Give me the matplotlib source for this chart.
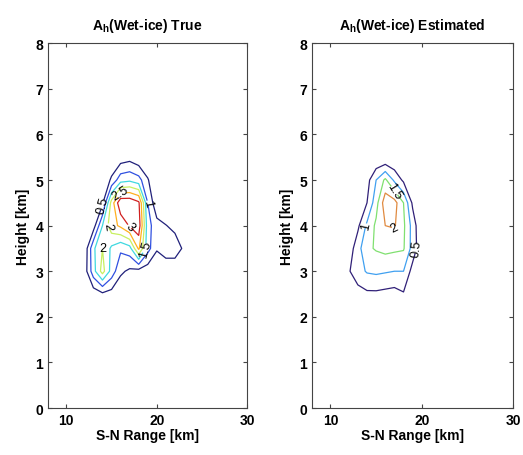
import numpy as np
import matplotlib
matplotlib.use("Agg")
import matplotlib.pyplot as plt

plt.rcParams.update({
    "font.family": ["Liberation Sans", "DejaVu Sans"],
    "font.weight": "bold",
    "mathtext.fontset": "custom",
    "mathtext.bf": "Liberation Sans:bold",
    "mathtext.rm": "Liberation Sans:bold",
})

# grid (S-N range in km, height in km)
range_km = [11, 12, 13, 14, 15, 16, 17, 18, 19, 20, 21, 22, 23, 24]
height_km = [2.0, 2.5, 3.0, 3.5, 4.0, 4.5, 5.0, 5.5, 6.0]

# A_h true (rows = height, cols = range)
ah_true = [
    [0, 0.0, 0.00, 0.0, 0.0, 0.0, 0.00, 0.0, 0.00, 0.00, 0.00, 0.00, 0.0, 0],
    [0, 0.0, 0.20, 0.4, 0.3, 0.1, 0.00, 0.0, 0.00, 0.00, 0.00, 0.00, 0.0, 0],
    [0, 0.2, 1.30, 2.2, 1.3, 0.6, 0.40, 0.3, 0.20, 0.10, 0.10, 0.10, 0.0, 0],
    [0, 0.1, 1.40, 2.0, 1.4, 1.1, 1.30, 2.6, 1.20, 0.55, 0.80, 0.80, 0.4, 0],
    [0, 0.1, 0.25, 1.5, 2.3, 2.6, 3.05, 3.3, 1.20, 0.70, 0.52, 0.35, 0.0, 0],
    [0, 0.0, 0.10, 0.4, 2.2, 3.4, 3.40, 3.1, 1.00, 0.10, 0.00, 0.00, 0.0, 0],
    [0, 0.0, 0.00, 0.0, 0.6, 1.3, 1.40, 1.2, 0.55, 0.00, 0.00, 0.00, 0.0, 0],
    [0, 0.0, 0.00, 0.0, 0.0, 0.2, 0.30, 0.1, 0.00, 0.00, 0.00, 0.00, 0.0, 0],
    [0, 0.0, 0.00, 0.0, 0.0, 0.0, 0.00, 0.0, 0.00, 0.00, 0.00, 0.00, 0.0, 0],
]

# A_h estimated
ah_est = [
    [0, 0.00, 0.0, 0.00, 0.00, 0.00, 0.00, 0.00, 0.0, 0.0, 0, 0, 0, 0],
    [0, 0.10, 0.3, 0.40, 0.40, 0.35, 0.30, 0.45, 0.2, 0.0, 0, 0, 0, 0],
    [0, 0.45, 0.8, 1.05, 1.10, 1.05, 1.00, 1.00, 0.3, 0.0, 0, 0, 0, 0],
    [0, 0.20, 0.8, 1.40, 1.55, 1.65, 1.60, 1.55, 0.8, 0.1, 0, 0, 0, 0],
    [0, 0.10, 0.4, 1.10, 1.60, 2.00, 2.05, 1.60, 0.8, 0.0, 0, 0, 0, 0],
    [0, 0.00, 0.1, 0.50, 1.30, 2.30, 2.20, 1.50, 0.4, 0.0, 0, 0, 0, 0],
    [0, 0.00, 0.0, 0.30, 1.00, 1.60, 0.90, 0.40, 0.0, 0.0, 0, 0, 0, 0],
    [0, 0.00, 0.0, 0.00, 0.00, 0.00, 0.00, 0.00, 0.0, 0.0, 0, 0, 0, 0],
    [0, 0.00, 0.0, 0.00, 0.00, 0.00, 0.00, 0.00, 0.0, 0.0, 0, 0, 0, 0],
]

levels_true = [0.5, 1.0, 1.5, 2.0, 2.5, 3.0]
levels_est = [0.5, 1.0, 1.5, 2.0]

colors_true = ["#20207a", "#3050e0", "#40d8e0", "#c8f060", "#ffb020", "#d02020"]
colors_est = ["#302078", "#40a0f0", "#80e070", "#e08a40"]

titles = [r"A$_{\mathbf{h}}$(Wet-ice) True", r"A$_{\mathbf{h}}$(Wet-ice) Estimated"]

fig = plt.figure(figsize=(5.23, 4.56), dpi=100, facecolor="white")
ax1 = fig.add_axes([0.092, 0.103, 0.381, 0.800])
ax2 = fig.add_axes([0.597, 0.103, 0.384, 0.800])

X, Y = np.meshgrid(range_km, height_km)

for ax, data, levels, cols, title in [
    (ax1, ah_true, levels_true, colors_true, titles[0]),
    (ax2, ah_est, levels_est, colors_est, titles[1]),
]:
    cs = ax.contour(X, Y, np.array(data), levels=levels, colors=cols, linewidths=0.9)
    ax.clabel(cs, fmt="%g", fontsize=9, colors="k", inline=True, inline_spacing=1)
    for t in cs.labelTexts:
        t.set_fontweight("normal")

    ax.set_xlim(8, 30)
    ax.set_ylim(0, 8)
    ax.set_xticks([10, 20, 30])
    ax.set_yticks(range(0, 9))
    ax.tick_params(direction="in", top=True, right=True, length=3,
                   labelsize=10, width=0.8, color="#444444")
    for sp in ax.spines.values():
        sp.set_color("#444444")
        sp.set_linewidth(0.8)
    ax.set_xlabel("S-N Range [km]", fontsize=10, fontweight="bold", labelpad=1)
    ax.set_ylabel("Height [km]", fontsize=10, fontweight="bold", labelpad=4)
    ax.set_title(title, fontsize=10, fontweight="bold", pad=10)

fig.savefig("out.png", dpi=100, facecolor="white")
